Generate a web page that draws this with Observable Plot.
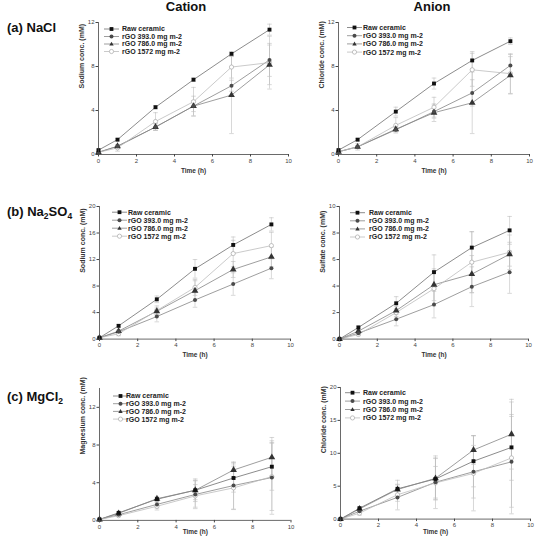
<!DOCTYPE html>
<html><head><meta charset="utf-8">
<script src="https://cdn.jsdelivr.net/npm/d3@7"></script>
<script src="https://cdn.jsdelivr.net/npm/@observablehq/plot@0.6"></script>
<style>
body{margin:0;background:#fff;}
#fig{position:relative;width:540px;height:538px;overflow:hidden;font-family:"Liberation Sans",Arial,sans-serif;background:#fff;}
#fig > svg, #fig > figure{position:absolute;margin:0;}
</style></head>
<body><div id="fig"></div>
<script>
const times = [0, 1, 3, 5, 7, 9];
const seriesNames = ["Raw ceramic", "rGO 393.0 mg m-2", "rGO 786.0 mg m-2", "rGO 1572 mg m-2"];
const xTicks = [0, 2, 4, 6, 8, 10];

// (a) NaCl
const naclCationMean = [
  [0.4, 1.35, 4.3, 6.8, 9.15, 11.35],
  [0.2, 0.75, 2.5, 4.4, 6.25, 8.6],
  [0.2, 0.75, 2.5, 4.4, 5.4, 8.15],
  [0.2, 0.6, 3.0, 4.8, 7.95, 8.35]
];
const naclCationErr = [
  [0.05, 0.1, 0.15, 0.15, 0.2, 0.5],
  [0.05, 0.1, 0.3, 0.9, 0.5, 1.5],
  [0.05, 0.1, 0.3, 0.5, 3.5, 1.8],
  [0.05, 0.3, 0.8, 1.3, 1.0, 2.4]
];
const naclAnionMean = [
  [0.4, 1.35, 3.9, 6.45, 8.55, 10.3],
  [0.25, 0.7, 2.25, 3.9, 5.6, 8.1],
  [0.25, 0.7, 2.3, 3.8, 4.7, 7.2],
  [0.25, 0.7, 2.65, 4.3, 7.7, 7.35]
];
const naclAnionErr = [
  [0.05, 0.1, 0.4, 0.5, 0.8, 0.3],
  [0.05, 0.1, 0.2, 0.6, 1.2, 1.0],
  [0.05, 0.1, 0.2, 0.8, 2.8, 1.7],
  [0.05, 0.3, 0.7, 0.9, 1.5, 1.8]
];
// (b) Na2SO4
const na2so4CationMean = [
  [0.2, 2.0, 6.0, 10.6, 14.2, 17.3],
  [0.2, 1.1, 3.4, 5.9, 8.3, 10.7],
  [0.2, 1.2, 4.2, 7.3, 10.5, 12.4],
  [0.2, 0.8, 4.3, 7.8, 12.9, 14.1]
];
const na2so4CationErr = [
  [0.1, 0.2, 0.5, 1.4, 1.2, 1.0],
  [0.1, 0.2, 0.8, 1.1, 1.7, 1.6],
  [0.1, 0.2, 0.5, 1.5, 1.2, 1.5],
  [0.1, 0.3, 0.7, 1.2, 2.0, 2.0]
];
const na2so4AnionMean = [
  [0.0, 0.88, 2.7, 5.05, 6.9, 8.2],
  [0.0, 0.45, 1.5, 2.6, 3.95, 5.05],
  [0.0, 0.6, 2.15, 4.1, 4.9, 6.4],
  [0.0, 0.35, 2.0, 3.8, 5.8, 6.55]
];
const na2so4AnionErr = [
  [0, 0.1, 0.5, 1.3, 1.2, 1.05],
  [0, 0.1, 0.5, 1.0, 1.5, 1.6],
  [0, 0.1, 0.3, 1.2, 1.4, 0.9],
  [0, 0.1, 0.3, 1.3, 2.3, 1.3]
];
// (c) MgCl2
const mgcl2CationMean = [
  [0.1, 0.8, 2.25, 3.2, 4.5, 5.7],
  [0.1, 0.6, 1.7, 2.75, 3.7, 4.55],
  [0.1, 0.75, 2.3, 3.2, 5.35, 6.7],
  [0.1, 0.5, 1.5, 2.6, 3.45, 4.65]
];
const mgcl2CationErr = [
  [0.05, 0.1, 0.2, 1.2, 1.5, 2.5],
  [0.05, 0.1, 0.4, 1.5, 2.5, 3.9],
  [0.05, 0.1, 0.2, 1.0, 0.8, 2.1],
  [0.05, 0.1, 0.4, 1.2, 2.3, 3.6]
];
const mgcl2AnionMean = [
  [0.0, 1.65, 4.6, 6.1, 8.8, 10.9],
  [0.0, 1.2, 3.3, 5.6, 7.2, 8.7],
  [0.0, 1.55, 4.5, 6.2, 10.5, 12.9],
  [0.0, 0.9, 3.7, 5.5, 6.95, 9.3]
];
const mgcl2AnionErr = [
  [0, 0.2, 1.3, 3.2, 3.9, 5.0],
  [0, 0.2, 1.9, 4.0, 4.0, 6.9],
  [0, 0.2, 0.8, 3.0, 2.2, 5.3],
  [0, 0.3, 1.0, 2.5, 5.7, 8.5]
];

const styles = [
  {symbol: "square", r: 2.2, fill: "#111", stroke: "none", line: "#6e6e6e"},
  {symbol: "circle", r: 2.0, fill: "#4a4a4a", stroke: "none", line: "#858585"},
  {symbol: "triangle", r: 2.5, fill: "#333", stroke: "none", line: "#858585"},
  {symbol: "circle", r: 2.1, fill: "#fff", stroke: "#a8a8a8", line: "#bdbdbd"}
];
const errColor = "#bdbdbd";
const FONT = "Liberation Sans, Arial, sans-serif";
const mL = 30, mR = 8, mT = 4, mB = 26;

const panels = [
  {mean: naclCationMean, err: naclCationErr, yDomain: [0, 12], yTicks: [0, 4, 8, 12], yLabel: "Sodium conc. (mM)",
   x0: 98, x1: 288, yT: 22, yB: 154, tdy: 18, leg: {lx: 6, tx: 24, ty: 7, sp: 7.5}},
  {mean: naclAnionMean, err: naclAnionErr, yDomain: [0, 12], yTicks: [0, 4, 8, 12], yLabel: "Chloride conc. (mM)",
   x0: 338, x1: 529, yT: 22, yB: 154, tdy: 18, leg: {lx: 9, tx: 25, ty: 5.5, sp: 8.2}},
  {mean: na2so4CationMean, err: na2so4CationErr, yDomain: [0, 20], yTicks: [0, 4, 8, 12, 16, 20], yLabel: "Sodium conc. (mM)",
   x0: 99, x1: 290, yT: 205.7, yB: 338.3, tdy: 18, leg: {lx: 13, tx: 29, ty: 6.5, sp: 8}},
  {mean: na2so4AnionMean, err: na2so4AnionErr, yDomain: [0, 10], yTicks: [0, 2, 4, 6, 8, 10], yLabel: "Sulfate conc. (mM)",
   x0: 339, x1: 528, yT: 205.7, yB: 338.3, tdy: 18, leg: {lx: 11, tx: 30, ty: 7, sp: 8.1}},
  {mean: mgcl2CationMean, err: mgcl2CationErr, yDomain: [0, 14], yTicks: [0, 4, 8, 12], yLabel: "Magnesium conc. (mM)",
   x0: 99, x1: 290.5, yT: 388.4, yB: 520.3, tdy: 13.5, leg: {lx: 14, tx: 27, ty: 7.6, sp: 7.7}},
  {mean: mgcl2AnionMean, err: mgcl2AnionErr, yDomain: [0, 20], yTicks: [0, 5, 10, 15, 20], yLabel: "Chloride conc. (mM)",
   x0: 340, x1: 530, yT: 386.7, yB: 518.3, tdy: 15, leg: {lx: 5, tx: 23, ty: 6, sp: 8.4}}
];

const fig = document.getElementById("fig");
const cap = 0.12;

panels.forEach(cfg => {
  const W = (cfg.x1 - cfg.x0) + mL + mR;
  const H = (cfg.yB - cfg.yT) + mT + mB;
  const errMarks = [], lineMarks = [], dotMarks = [];
  cfg.mean.forEach((vals, s) => {
    const st = styles[s];
    const rows = times.map((t, i) => ({t, v: vals[i], e: cfg.err[s][i]}));
    errMarks.push(Plot.ruleX(rows, {x: "t", y1: d => d.v - d.e, y2: d => d.v + d.e, stroke: errColor, strokeWidth: 0.6}));
    errMarks.push(Plot.link(rows, {x1: d => d.t - cap, x2: d => d.t + cap, y1: d => d.v + d.e, y2: d => d.v + d.e, stroke: errColor, strokeWidth: 0.6}));
    errMarks.push(Plot.link(rows, {x1: d => d.t - cap, x2: d => d.t + cap, y1: d => d.v - d.e, y2: d => d.v - d.e, stroke: errColor, strokeWidth: 0.6}));
    lineMarks.push(Plot.line(rows, {x: "t", y: "v", stroke: st.line, strokeWidth: 0.8}));
    dotMarks.push(Plot.dot(rows, {x: "t", y: "v", symbol: st.symbol, r: st.r, fill: st.fill, stroke: st.stroke, strokeWidth: 0.7}));
  });
  const chart = Plot.plot({
    width: W, height: H,
    marginLeft: mL, marginRight: mR, marginTop: mT, marginBottom: mB,
    x: {domain: [0, 10]},
    y: {domain: cfg.yDomain},
    style: {fontFamily: FONT, background: "transparent", overflow: "visible", color: "#444"},
    marks: [
      ...errMarks,
      ...lineMarks,
      ...dotMarks.reverse(),
      Plot.ruleX([0], {stroke: "#444", strokeWidth: 0.8}),
      Plot.ruleY([cfg.yDomain[0]], {stroke: "#444", strokeWidth: 0.8}),
      Plot.axisX({ticks: xTicks, tickSize: 2.5, tickPadding: 1.5, fontSize: 6, label: null, stroke: "#444", fill: "#444"}),
      Plot.axisY({ticks: cfg.yTicks, tickSize: 2.5, tickPadding: 1.5, fontSize: 6, label: null, stroke: "#444", fill: "#444"}),
      Plot.text([cfg.yLabel], {text: d => d, frameAnchor: "left", rotate: -90, dx: -17, fontWeight: "bold", fontSize: 7, fill: "#333"}),
      Plot.text(["Time (h)"], {text: d => d, frameAnchor: "bottom", dy: cfg.tdy, fontWeight: "bold", fontSize: 6.5, fill: "#333"})
    ]
  });
  chart.style.left = (cfg.x0 - mL) + "px";
  chart.style.top = (cfg.yT - mT) + "px";
  fig.appendChild(chart);
});

// Overlay: titles, panel labels, legends
const ns = "http://www.w3.org/2000/svg";
const ov = document.createElementNS(ns, "svg");
ov.setAttribute("width", 540); ov.setAttribute("height", 538);
ov.style.left = "0px"; ov.style.top = "0px"; ov.style.fontFamily = FONT;
fig.appendChild(ov);
function el(tag, attrs, parent) {
  const e = document.createElementNS(ns, tag);
  for (const k in attrs) e.setAttribute(k, attrs[k]);
  (parent || ov).appendChild(e);
  return e;
}
function txt(s, attrs) { const t = el("text", attrs); t.textContent = s; return t; }

txt("Cation", {x: 186, y: 10.5, "text-anchor": "middle", "font-size": 13, "font-weight": "bold", fill: "#111"});
txt("Anion", {x: 432, y: 10.5, "text-anchor": "middle", "font-size": 13, "font-weight": "bold", fill: "#111"});

function panelLabel(parts, y) {
  const t = el("text", {x: 7, y: y, "font-size": 13, "font-weight": "bold", fill: "#111"});
  parts.forEach(([s, sub], i) => {
    let dy = 0;
    if (sub) dy = 3; else if (i > 0 && parts[i - 1][1]) dy = -3;
    const ts = el("tspan", sub ? {"font-size": 8.5, dy} : {dy}, t);
    ts.textContent = s;
  });
}
panelLabel([["(a) NaCl", false]], 32);
panelLabel([["(b) Na", false], ["2", true], ["SO", false], ["4", true]], 216);
panelLabel([["(c) MgCl", false], ["2", true]], 401);

panels.forEach(cfg => {
  const L = cfg.leg;
  seriesNames.forEach((name, s) => {
    const st = styles[s];
    const cy = cfg.yT + L.ty + s * L.sp;
    const x1 = cfg.x0 + L.lx, x2 = x1 + 15, mx = (x1 + x2) / 2;
    el("line", {x1, x2, y1: cy, y2: cy, stroke: st.line, "stroke-width": 0.8});
    if (st.symbol === "square") el("rect", {x: mx - 1.9, y: cy - 1.9, width: 3.8, height: 3.8, fill: st.fill});
    else if (st.symbol === "triangle") el("path", {d: `M${mx},${cy - 2.3}L${mx + 2.2},${cy + 1.6}L${mx - 2.2},${cy + 1.6}Z`, fill: st.fill});
    else el("circle", {cx: mx, cy, r: st.r, fill: st.fill, stroke: st.stroke, "stroke-width": 0.7});
    txt(name, {x: cfg.x0 + L.tx, y: cy + 2.4, "font-size": 7, "font-weight": "bold", fill: "#222"});
  });
});
</script>
</body></html>
